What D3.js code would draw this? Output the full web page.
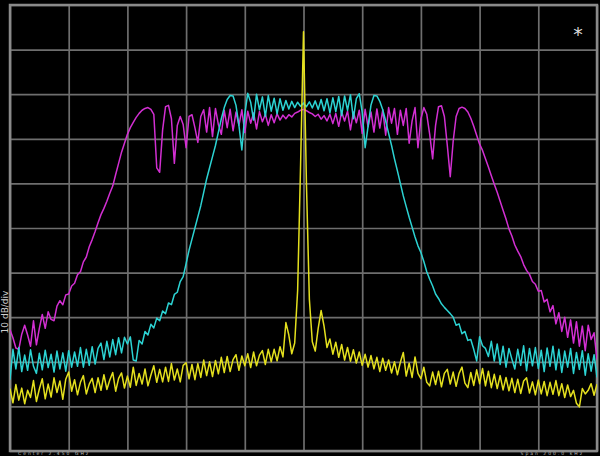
<!DOCTYPE html>
<html><head><meta charset="utf-8">
<script src="https://cdn.jsdelivr.net/npm/d3@7"></script>
<style>html,body{margin:0;padding:0;background:#000;overflow:hidden}</style>
</head><body><svg id="c" width="600" height="456"></svg>
<script>
// frequency offsets (kHz) from centre
const freqs = d3.range(-100, 101, 1);
const xTicks = [-100, -80, -60, -40, -20, 0, 20, 40, 60, 80, 100];
const yTicks = [-100, -90, -80, -70, -60, -50, -40, -30, -20, -10, 0];

const yellow = [
-86.0,-89.2,-85.1,-88.6,-85.9,-89.4,-86.4,-88.0,-84.2,-88.9,
-86.1,-83.8,-88.3,-85.0,-87.9,-83.6,-86.9,-84.3,-88.4,-83.9,
-82.3,-86.6,-84.0,-87.4,-84.6,-83.1,-87.2,-85.0,-83.7,-86.9,
-83.6,-86.4,-82.9,-86.2,-84.1,-82.4,-86.6,-83.7,-82.5,-85.9,
-83.2,-85.7,-81.2,-85.3,-82.6,-85.0,-81.6,-85.4,-83.0,-80.9,
-84.6,-81.7,-84.5,-81.2,-84.4,-80.4,-84.1,-81.6,-84.5,-80.8,
-80.2,-83.8,-80.6,-84.0,-80.4,-83.5,-79.6,-83.1,-80.0,-83.3,
-79.7,-82.7,-79.0,-82.4,-78.8,-82.2,-79.5,-78.4,-81.9,-78.7,
-80.9,-78.2,-81.3,-77.8,-80.9,-78.5,-77.5,-80.6,-77.2,-80.0,
-77.2,-79.8,-76.6,-78.9,-71.2,-74.0,-78.2,-75.8,-64.0,-36.0,
-6.0,
-40.0,-66.0,-75.5,-77.6,-72.5,-68.5,-72.0,-76.8,-74.9,-78.3,
-75.6,-79.0,-76.1,-79.6,-76.8,-79.9,-77.3,-80.3,-77.8,-80.8,
-78.3,-81.2,-78.6,-81.6,-79.0,-82.2,-79.2,-81.9,-79.6,-82.5,
-80.0,-82.9,-80.1,-77.9,-83.2,-80.3,-83.5,-78.9,-82.6,-83.8,
-81.2,-84.6,-85.4,-82.3,-85.1,-82.1,-85.6,-82.6,-81.7,-85.0,
-82.3,-85.5,-82.6,-81.2,-84.8,-85.8,-82.4,-85.3,-81.8,-84.9,
-81.5,-85.4,-82.1,-85.8,-82.8,-86.0,-83.1,-86.3,-83.5,-86.5,
-83.7,-86.9,-83.9,-87.1,-84.3,-83.6,-87.0,-84.5,-87.4,-84.1,
-87.2,-84.4,-87.6,-84.6,-87.3,-84.2,-87.6,-84.9,-88.0,-85.2,
-87.8,-86.4,-89.3,-90.1,-86.0,-87.2,-86.4,-84.9,-87.5,-85.0
];

const cyan = [
-84.0,-77.2,-81.6,-76.8,-82.2,-78.5,-81.9,-77.3,-81.0,-82.6,
-78.1,-81.8,-77.4,-81.3,-78.3,-82.3,-77.6,-81.6,-78.0,-82.1,
-77.5,-81.2,-77.8,-81.0,-76.8,-81.2,-77.2,-80.8,-76.6,-80.5,
-77.0,-75.8,-79.5,-75.4,-78.9,-75.0,-78.4,-74.6,-78.0,-74.5,
-76.0,-74.4,-79.6,-79.8,-75.2,-76.0,-73.2,-74.0,-71.6,-72.4,
-70.2,-70.8,-68.6,-69.2,-66.8,-67.2,-64.9,-64.4,-62.0,-60.9,
-58.0,-55.0,-52.5,-50.0,-47.5,-45.0,-42.0,-39.0,-36.5,-34.0,
-31.5,-28.5,-25.5,-23.0,-21.2,-20.3,-20.4,-22.5,-27.0,-32.5,
-24.5,-19.8,-21.8,-25.8,-20.0,-23.5,-20.6,-25.0,-20.3,-23.8,
-20.9,-24.4,-21.0,-23.6,-21.4,-23.3,-21.6,-23.0,-21.8,-22.7,
-22.0,
-22.8,-21.7,-23.1,-21.5,-23.4,-21.2,-23.7,-21.0,-24.2,-20.8,
-23.9,-20.5,-24.8,-20.4,-23.6,-20.1,-25.5,-21.0,-19.9,-24.0,
-32.0,-27.2,-22.4,-20.3,-20.4,-21.6,-23.5,-26.0,-28.8,-31.5,
-34.5,-37.2,-40.0,-42.8,-45.2,-47.6,-49.8,-52.0,-54.0,-55.5,
-57.5,-59.8,-61.5,-63.0,-64.8,-65.8,-67.0,-67.8,-68.5,-69.2,
-70.0,-71.8,-71.5,-73.7,-73.2,-75.2,-75.0,-77.2,-79.8,-74.4,
-76.4,-77.0,-78.8,-75.4,-79.8,-76.0,-80.6,-76.5,-81.2,-77.0,
-79.4,-81.6,-77.2,-80.8,-76.4,-82.0,-77.0,-80.9,-76.8,-81.5,
-77.4,-82.2,-76.9,-81.0,-76.5,-81.8,-77.2,-82.4,-77.6,-81.2,
-77.0,-82.6,-77.9,-81.7,-77.5,-83.0,-78.2,-82.1,-78.4,-83.5
];

const magenta = [
-72.8,-74.6,-76.9,-77.2,-73.8,-71.8,-74.0,-76.5,-70.8,-76.2,
-72.5,-69.4,-72.5,-68.8,-70.5,-70.8,-67.5,-66.3,-67.2,-65.0,
-64.8,-63.0,-62.4,-60.5,-59.8,-57.6,-56.5,-54.2,-52.6,-50.8,
-48.8,-47.0,-45.6,-44.0,-42.2,-40.6,-38.0,-35.5,-33.0,-31.0,
-29.0,-27.5,-26.3,-25.2,-24.3,-23.6,-23.2,-23.0,-23.4,-24.5,
-36.5,-37.5,-28.0,-22.8,-22.5,-25.5,-35.5,-27.0,-25.0,-26.8,
-32.0,-25.0,-24.6,-27.5,-30.8,-25.0,-23.5,-28.5,-23.0,-29.5,
-23.2,-26.8,-29.0,-23.6,-27.5,-23.4,-28.2,-24.0,-27.0,-23.5,
-28.6,-23.8,-26.5,-24.2,-27.8,-23.9,-26.2,-24.5,-27.0,-24.6,
-26.4,-24.4,-25.8,-24.7,-25.5,-24.6,-25.1,-24.3,-24.0,-23.6,
-23.4,
-23.7,-24.1,-24.4,-25.0,-24.5,-25.6,-24.8,-26.0,-24.5,-26.6,
-24.3,-27.2,-24.0,-26.0,-23.8,-28.0,-24.0,-26.4,-23.6,-28.8,
-23.4,-27.3,-24.0,-28.5,-23.3,-27.6,-23.5,-29.2,-23.0,-26.5,
-23.2,-29.0,-23.6,-27.0,-23.2,-31.0,-26.0,-23.0,-32.0,-25.5,
-23.0,-24.5,-29.0,-34.5,-27.0,-22.8,-22.6,-25.0,-31.5,-38.5,
-30.5,-25.0,-23.2,-22.9,-23.2,-24.0,-25.4,-27.2,-29.2,-31.2,
-32.6,-34.5,-36.3,-38.3,-40.2,-42.0,-44.0,-46.0,-48.0,-50.2,
-51.8,-53.8,-55.2,-56.4,-58.2,-59.5,-60.4,-62.0,-62.6,-64.2,
-64.0,-66.6,-66.0,-68.8,-67.4,-71.5,-69.0,-73.2,-70.0,-74.5,
-70.6,-75.8,-71.0,-76.5,-72.0,-77.5,-71.8,-75.0,-73.5,-79.5
];

const W = 600, H = 456;
const L = 10, R = 597, T = 5, B = 451;
const svg = d3.select("#c");
svg.append("rect").attr("width", W).attr("height", H).attr("fill", "#000");

const x = d3.scaleLinear().domain([-100, 100]).range([L, R]);
const y = d3.scaleLinear().domain([-100, 0]).range([B, T]);

const gridStyle = g => {
  g.select(".domain").remove();
  g.selectAll(".tick line").attr("stroke", "#6e6e6e").attr("stroke-width", 1.7);
};
svg.append("g").attr("transform", `translate(0,${B})`)
  .call(d3.axisBottom(x).tickValues(xTicks).tickSize(-(B - T)).tickFormat(""))
  .call(gridStyle);
svg.append("g").attr("transform", `translate(${L},0)`)
  .call(d3.axisLeft(y).tickValues(yTicks).tickSize(-(R - L)).tickFormat(""))
  .call(gridStyle);
svg.append("rect").attr("x", L).attr("y", T).attr("width", R - L).attr("height", B - T)
  .attr("fill", "none").attr("stroke", "#8a8a8a").attr("stroke-width", 2.5);

const clip = svg.append("clipPath").attr("id", "pc");
clip.append("rect").attr("x", L).attr("y", T).attr("width", R - L).attr("height", B - T);

const line = d3.line().x((d, i) => x(freqs[i])).y(d => y(d));
const traces = [
  {data: magenta, color: "#d22fd2"},
  {data: cyan, color: "#2cd3d3"},
  {data: yellow, color: "#e4e01e"}
];
const tg = svg.append("g").attr("clip-path", "url(#pc)");
traces.forEach(t => {
  tg.append("path").attr("d", line(t.data)).attr("fill", "none")
    .attr("stroke", t.color).attr("stroke-width", 1.5).attr("stroke-linejoin", "round");
});

// marker asterisk
svg.append("text").attr("x", 578).attr("y", 41).attr("text-anchor", "middle")
  .attr("fill", "#dcdcdc").attr("font-family", "DejaVu Sans").attr("font-size", 19).text("*");

// side and bottom annotations, squeezed into the thin margins
svg.append("text").attr("transform", "translate(8,312) rotate(-90)").attr("text-anchor", "middle")
  .attr("fill", "#cfcfcf").attr("font-family", "DejaVu Sans").attr("font-size", 9).text("10 dB/div");
svg.append("text").attr("x", 18).attr("y", 455).attr("fill", "#bdbdbd")
  .attr("font-family", "DejaVu Sans").attr("font-size", 4.5).attr("letter-spacing", 2).text("Center 2.450 GHz");
svg.append("text").attr("x", 584).attr("y", 455).attr("text-anchor", "end").attr("fill", "#bdbdbd")
  .attr("font-family", "DejaVu Sans").attr("font-size", 4.5).attr("letter-spacing", 2).text("Span 200.0 kHz");
</script>
</body></html>
